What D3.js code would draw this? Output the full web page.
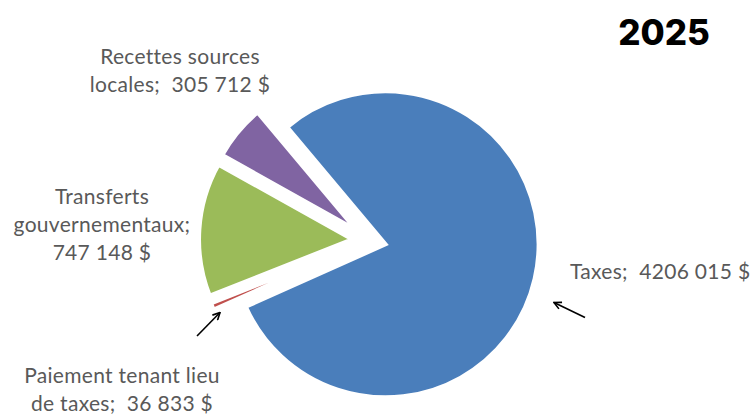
<!DOCTYPE html>
<html>
<head>
<meta charset="utf-8">
<script src="https://cdn.jsdelivr.net/npm/d3@7"></script>
<style>
  body { margin: 0; background: #fff; }
  .slice-label { white-space: pre; }
</style>
</head>
<body>
<div id="chart"></div>
<script>
// data
let categories = ['Taxes', 'Paiement tenant lieu de taxes', 'Transferts gouvernementaux', 'Recettes sources locales']
let amounts = [4206015, 36833, 747148, 305712]
let colors = ['#4a7ebb', '#c0504d', '#9bbb59', '#8064a2']
// how each label is broken into lines ({v} = formatted amount)
let labelLines = [
  ['Taxes;  {v}'],
  ['Paiement tenant lieu', 'de taxes;  {v}'],
  ['Transferts', 'gouvernementaux;', '{v}'],
  ['Recettes sources', 'locales;  {v}']
]
let title = '2025'

let width = 751
let height = 415
let cx = 369
let cy = 240.5
let radius = 153
let explode = 17
let lineGap = 28

// label placement relative to the pie centre
let labelLayout = [
  { dx: 201, dy: 31.5, anchor: 'start' },
  { dx: -247, dy: 135, anchor: 'middle' },
  { dx: -267, dy: -43.5, anchor: 'middle' },
  { dx: -189, dy: -183.5, anchor: 'middle' }
]
// arrows: [tail, head] relative to the pie centre
let arrows = [
  [[216, 77], [185, 62]],
  [[-172, 95.5], [-149, 72]]
]

// excel style "### ##0 $" : only the last group gets a space
function fmt(v) {
  let s = String(v)
  return s.slice(0, -3) + ' ' + s.slice(-3) + ' $'
}

let rows = categories.map((c, i) => ({ name: c, value: amounts[i], i: i }))

let svg = d3
  .select('#chart')
  .append('svg')
  .attr('width', width)
  .attr('height', height)

let color = d3.scaleOrdinal().domain(categories).range(colors)

let start = -40 * Math.PI / 180
let pie = d3
  .pie()
  .sort(null)
  .value(d => d.value)
  .startAngle(start)
  .endAngle(start + 2 * Math.PI)

let arc = d3.arc().innerRadius(0).outerRadius(radius)

let g = svg.append('g').attr('transform', `translate(${cx},${cy})`)

g.selectAll('.slice')
  .data(pie(rows))
  .enter()
  .append('path')
  .attr('class', 'slice')
  .attr('d', arc)
  .attr('fill', d => color(d.data.name))
  .attr('stroke', '#fff')
  .attr('stroke-width', 4)
  .attr('stroke-linejoin', 'miter')
  .attr('transform', d => {
    let a = (d.startAngle + d.endAngle) / 2
    return `translate(${Math.sin(a) * explode},${-Math.cos(a) * explode})`
  })

// labels
let labels = g
  .selectAll('.slice-label')
  .data(rows)
  .enter()
  .append('text')
  .attr('class', 'slice-label')
  .attr('x', d => labelLayout[d.i].dx)
  .attr('y', d => labelLayout[d.i].dy)
  .attr('text-anchor', d => labelLayout[d.i].anchor)
  .attr('font-family', 'Lato, "Noto Sans", sans-serif')
  .attr('font-size', 21)
  .attr('letter-spacing', 0.3)
  .attr('fill', '#595959')

labels
  .selectAll('tspan')
  .data(d => labelLines[d.i].map(l => ({ text: l.replace('{v}', fmt(d.value)), x: labelLayout[d.i].dx })))
  .enter()
  .append('tspan')
  .attr('x', d => d.x)
  .attr('dy', (d, i) => (i === 0 ? '0.35em' : lineGap))
  .text(d => d.text)

// arrows
svg
  .append('defs')
  .append('marker')
  .attr('id', 'head')
  .attr('viewBox', '0 0 10 10')
  .attr('refX', 9)
  .attr('refY', 5)
  .attr('markerWidth', 9)
  .attr('markerHeight', 9)
  .attr('markerUnits', 'userSpaceOnUse')
  .attr('orient', 'auto')
  .append('path')
  .attr('d', 'M1,1 L9,5 L1,9')
  .attr('fill', 'none')
  .attr('stroke', '#000')
  .attr('stroke-width', 1.8)

g.selectAll('.arrow')
  .data(arrows)
  .enter()
  .append('line')
  .attr('class', 'arrow')
  .attr('x1', d => d[0][0])
  .attr('y1', d => d[0][1])
  .attr('x2', d => d[1][0])
  .attr('y2', d => d[1][1])
  .attr('stroke', '#000')
  .attr('stroke-width', 1.6)
  .attr('marker-end', 'url(#head)')

svg
  .append('text')
  .attr('x', 664)
  .attr('y', 33)
  .attr('dy', '0.35em')
  .attr('text-anchor', 'middle')
  .attr('font-family', 'Inter, sans-serif')
  .attr('font-weight', 800)
  .attr('font-size', 35)
  .attr('fill', '#000')
  .text(title)
</script>
</body>
</html>
